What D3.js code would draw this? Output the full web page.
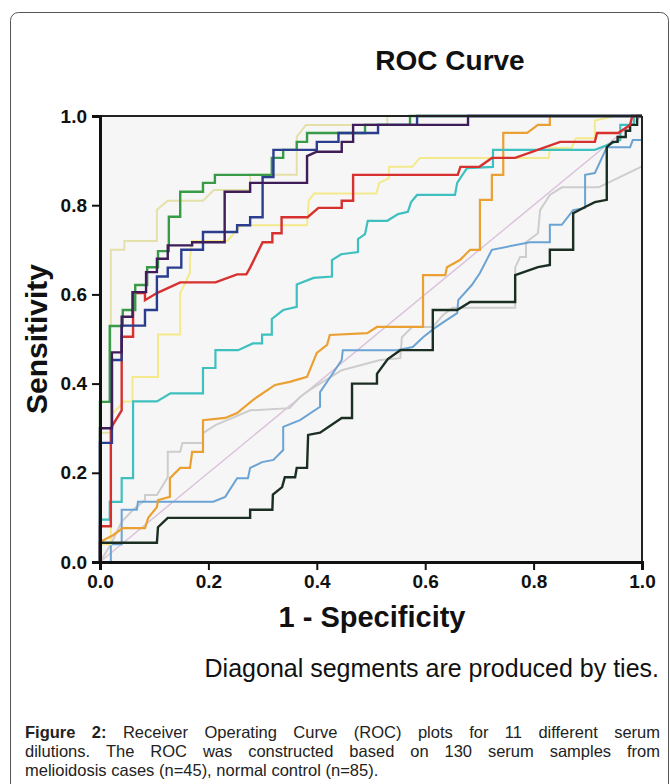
<!DOCTYPE html>
<html>
<head>
<meta charset="utf-8">
<script src="https://cdn.jsdelivr.net/npm/d3@7"></script>
<style>
  html, body { margin: 0; padding: 0; background: #ffffff; }
  svg { display: block; }
</style>
</head>
<body>
<svg id="chart" width="670" height="784"></svg>
<script>
// ---------------- DATA (1 - specificity, sensitivity) ----------------
const tickValues = [0.0, 0.2, 0.4, 0.6, 0.8, 1.0];
const titleText = "ROC Curve";
const xTitle = "1 - Specificity";
const yTitle = "Sensitivity";
const noteText = "Diagonal segments are produced by ties.";
const captionBold = "Figure 2:";
const captionLines = [
  "Receiver Operating Curve (ROC) plots for 11 different serum",
  "dilutions. The ROC was constructed based on 130 serum samples from",
  "melioidosis cases (n=45), normal control (n=85)."
];

const referenceLine = [[0, 0], [1, 1]];

const seriesKhaki = [[0,0],[0,0.29],[0.02,0.29],[0.02,0.70],[0.045,0.70],[0.045,0.72],[0.105,0.72],[0.105,0.79],[0.125,0.81],[0.19,0.81],[0.21,0.834],[0.277,0.834],[0.277,0.868],[0.363,0.868],[0.363,0.953],[0.38,0.98],[0.53,0.98],[0.53,1.0],[1,1]];
const seriesGreen = [[0,0],[0,0.359],[0.018,0.359],[0.018,0.529],[0.042,0.529],[0.042,0.565],[0.065,0.565],[0.065,0.621],[0.087,0.621],[0.087,0.661],[0.107,0.661],[0.107,0.697],[0.127,0.697],[0.127,0.774],[0.148,0.774],[0.148,0.83],[0.19,0.83],[0.19,0.85],[0.212,0.85],[0.212,0.868],[0.317,0.868],[0.317,0.906],[0.338,0.906],[0.338,0.924],[0.363,0.924],[0.363,0.942],[0.382,0.942],[0.382,0.962],[0.489,0.962],[0.489,0.98],[0.572,0.98],[0.572,1.0],[1,1]];
const seriesPurple = [[0,0],[0,0.30],[0.022,0.30],[0.022,0.47],[0.04,0.47],[0.04,0.55],[0.06,0.55],[0.06,0.605],[0.085,0.605],[0.085,0.65],[0.105,0.65],[0.105,0.68],[0.125,0.68],[0.125,0.71],[0.17,0.71],[0.17,0.717],[0.23,0.717],[0.23,0.83],[0.277,0.83],[0.277,0.85],[0.382,0.85],[0.382,0.91],[0.40,0.92],[0.446,0.92],[0.446,0.942],[0.467,0.942],[0.467,0.98],[0.679,0.98],[0.679,1.0],[1,1]];
const seriesNavy = [[0,0],[0,0.267],[0.022,0.267],[0.022,0.453],[0.04,0.453],[0.04,0.53],[0.083,0.53],[0.083,0.565],[0.105,0.565],[0.105,0.64],[0.125,0.64],[0.125,0.66],[0.15,0.66],[0.15,0.70],[0.19,0.70],[0.19,0.74],[0.253,0.74],[0.253,0.755],[0.277,0.755],[0.277,0.773],[0.30,0.773],[0.30,0.863],[0.32,0.863],[0.32,0.924],[0.40,0.924],[0.40,0.942],[0.44,0.942],[0.44,0.962],[0.513,0.962],[0.513,0.98],[0.585,0.98],[0.585,1.0],[1,1]];
const seriesRed = [[0,0],[0,0.08],[0.02,0.08],[0.02,0.30],[0.04,0.34],[0.04,0.505],[0.061,0.505],[0.061,0.603],[0.083,0.603],[0.083,0.587],[0.105,0.603],[0.148,0.627],[0.213,0.627],[0.253,0.645],[0.27,0.645],[0.277,0.66],[0.30,0.717],[0.318,0.717],[0.318,0.737],[0.335,0.737],[0.335,0.773],[0.383,0.773],[0.403,0.794],[0.446,0.794],[0.446,0.81],[0.467,0.81],[0.467,0.868],[0.66,0.868],[0.665,0.886],[0.70,0.886],[0.723,0.906],[0.766,0.906],[0.849,0.942],[0.913,0.942],[0.917,0.962],[0.956,0.962],[0.978,0.98],[0.982,1.0],[1,1]];
const seriesTeal = [[0,0],[0,0.095],[0.018,0.095],[0.018,0.135],[0.04,0.135],[0.04,0.188],[0.061,0.188],[0.061,0.36],[0.105,0.36],[0.13,0.378],[0.19,0.378],[0.19,0.435],[0.213,0.435],[0.213,0.475],[0.255,0.475],[0.282,0.49],[0.299,0.49],[0.299,0.51],[0.317,0.51],[0.317,0.545],[0.338,0.565],[0.363,0.572],[0.363,0.622],[0.394,0.637],[0.428,0.64],[0.428,0.677],[0.445,0.69],[0.476,0.695],[0.476,0.724],[0.489,0.735],[0.494,0.765],[0.530,0.765],[0.55,0.78],[0.568,0.785],[0.574,0.807],[0.585,0.823],[0.655,0.823],[0.659,0.85],[0.677,0.883],[0.725,0.886],[0.725,0.924],[0.913,0.924],[0.96,0.946],[0.96,0.98],[0.985,0.98],[0.985,1.0],[1,1]];
const seriesOrange = [[0,0],[0,0.045],[0.024,0.06],[0.042,0.076],[0.083,0.076],[0.089,0.099],[0.105,0.123],[0.107,0.139],[0.129,0.146],[0.129,0.188],[0.148,0.211],[0.166,0.211],[0.17,0.247],[0.19,0.247],[0.19,0.318],[0.231,0.323],[0.253,0.334],[0.282,0.363],[0.29,0.37],[0.323,0.397],[0.35,0.404],[0.382,0.415],[0.40,0.469],[0.419,0.487],[0.424,0.509],[0.493,0.513],[0.511,0.527],[0.596,0.527],[0.596,0.643],[0.637,0.643],[0.64,0.661],[0.664,0.677],[0.683,0.70],[0.701,0.70],[0.701,0.812],[0.723,0.812],[0.723,0.868],[0.744,0.868],[0.744,0.962],[0.788,0.962],[0.808,0.98],[0.83,0.98],[0.83,1.0],[1,1]];
const seriesSteel = [[0,0],[0.02,0],[0.02,0.04],[0.04,0.04],[0.04,0.117],[0.068,0.117],[0.07,0.135],[0.209,0.135],[0.231,0.146],[0.253,0.188],[0.273,0.188],[0.277,0.211],[0.299,0.224],[0.32,0.229],[0.338,0.251],[0.338,0.303],[0.369,0.318],[0.406,0.348],[0.406,0.381],[0.424,0.413],[0.446,0.453],[0.448,0.475],[0.548,0.475],[0.577,0.482],[0.596,0.504],[0.618,0.525],[0.64,0.543],[0.659,0.558],[0.661,0.587],[0.686,0.621],[0.701,0.648],[0.723,0.70],[0.793,0.717],[0.83,0.717],[0.83,0.756],[0.852,0.756],[0.873,0.789],[0.895,0.794],[0.895,0.868],[0.913,0.872],[0.935,0.93],[0.978,0.93],[0.983,0.946],[1.0,0.946],[1,1]];
const seriesGrey = [[0,0],[0.02,0.04],[0.04,0.09],[0.061,0.117],[0.083,0.139],[0.083,0.15],[0.105,0.15],[0.125,0.19],[0.125,0.247],[0.148,0.247],[0.152,0.267],[0.19,0.267],[0.19,0.289],[0.213,0.307],[0.277,0.34],[0.35,0.345],[0.369,0.37],[0.387,0.386],[0.446,0.43],[0.517,0.453],[0.554,0.457],[0.557,0.504],[0.576,0.527],[0.614,0.527],[0.633,0.554],[0.651,0.57],[0.766,0.57],[0.766,0.66],[0.775,0.684],[0.786,0.684],[0.786,0.717],[0.808,0.737],[0.812,0.789],[0.83,0.823],[0.852,0.84],[0.92,0.84],[1.0,0.887],[1,1]];
const seriesBlack = [[0,0],[0,0.043],[0.105,0.043],[0.107,0.078],[0.125,0.099],[0.277,0.099],[0.277,0.117],[0.318,0.117],[0.319,0.151],[0.336,0.168],[0.341,0.19],[0.36,0.19],[0.363,0.211],[0.382,0.211],[0.384,0.285],[0.406,0.29],[0.446,0.323],[0.465,0.323],[0.465,0.40],[0.511,0.40],[0.511,0.422],[0.531,0.455],[0.554,0.475],[0.614,0.475],[0.614,0.565],[0.659,0.565],[0.683,0.583],[0.766,0.583],[0.766,0.643],[0.808,0.661],[0.83,0.666],[0.83,0.70],[0.873,0.70],[0.873,0.782],[0.895,0.796],[0.913,0.807],[0.935,0.812],[0.935,0.93],[0.946,0.942],[0.955,0.942],[0.955,0.953],[0.97,0.953],[0.97,0.967],[0.978,0.967],[0.978,0.98],[0.991,0.98],[0.991,1.0],[1,1]];
const seriesYellow = [[0,0],[0,0.04],[0.02,0.04],[0.02,0.33],[0.045,0.36],[0.06,0.36],[0.06,0.415],[0.107,0.415],[0.107,0.51],[0.148,0.51],[0.148,0.603],[0.166,0.648],[0.166,0.68],[0.17,0.72],[0.235,0.72],[0.26,0.755],[0.382,0.755],[0.385,0.81],[0.395,0.826],[0.51,0.826],[0.515,0.85],[0.533,0.86],[0.533,0.886],[0.576,0.886],[0.59,0.906],[0.828,0.906],[0.83,0.928],[0.87,0.928],[0.878,0.95],[0.913,0.95],[0.913,0.99],[0.95,1.0],[1,1]];

const seriesList = [
  { data: seriesGrey,   color: "#cdcdcd", width: 2 },
  { data: seriesSteel,  color: "#6ba3d3", width: 2 },
  { data: seriesYellow, color: "#f4ea8c", width: 2 },
  { data: seriesKhaki,  color: "#e4e0aa", width: 2 },
  { data: seriesOrange, color: "#eba033", width: 2.2 },
  { data: seriesTeal,   color: "#3fc0c0", width: 2.2 },
  { data: seriesBlack,  color: "#1b2e22", width: 2.4 },
  { data: seriesRed,    color: "#d6302f", width: 2.4 },
  { data: seriesGreen,  color: "#399a47", width: 2.4 },
  { data: seriesNavy,   color: "#2b3d8e", width: 2.4 },
  { data: seriesPurple, color: "#3e1d58", width: 2.4 }
];

// ---------------- LAYOUT ----------------
const svg = d3.select("#chart");
const plot = { left: 100, right: 642, top: 116, bottom: 562 };
const font = "Liberation Sans, Arial, sans-serif";

// outer frame
svg.append("rect")
  .attr("x", 10.5).attr("y", 12.5)
  .attr("width", 658).attr("height", 790)
  .attr("rx", 8).attr("ry", 8)
  .attr("fill", "#ffffff")
  .attr("stroke", "#555555").attr("stroke-width", 1);

const x = d3.scaleLinear().domain([0, 1]).range([plot.left, plot.right]);
const y = d3.scaleLinear().domain([0, 1]).range([plot.bottom, plot.top]);

// plot background
svg.append("rect")
  .attr("x", plot.left).attr("y", plot.top)
  .attr("width", plot.right - plot.left).attr("height", plot.bottom - plot.top)
  .attr("fill", "#f6f6f6");

const line = d3.line().x(d => x(d[0])).y(d => y(d[1]));

// reference diagonal
svg.append("path")
  .datum(referenceLine)
  .attr("d", line)
  .attr("fill", "none")
  .attr("stroke", "#dcc3dc")
  .attr("stroke-width", 1.5);

svg.append("g").selectAll("path")
  .data(seriesList)
  .join("path")
  .attr("d", d => line(d.data))
  .attr("fill", "none")
  .attr("stroke", d => d.color)
  .attr("stroke-width", d => d.width)
  .attr("stroke-linejoin", "miter");

// top & right frame
svg.append("line")
  .attr("x1", plot.left).attr("x2", plot.right)
  .attr("y1", plot.top).attr("y2", plot.top)
  .attr("stroke", "#222").attr("stroke-width", 2);
svg.append("line")
  .attr("x1", plot.right).attr("x2", plot.right)
  .attr("y1", plot.top).attr("y2", plot.bottom)
  .attr("stroke", "#222").attr("stroke-width", 2);

const fmt = d3.format(".1f");
const xAxis = svg.append("g")
  .attr("transform", `translate(0,${plot.bottom})`)
  .call(d3.axisBottom(x).tickValues(tickValues).tickFormat(fmt).tickSizeOuter(0).tickSize(8).tickPadding(5));
const yAxis = svg.append("g")
  .attr("transform", `translate(${plot.left},0)`)
  .call(d3.axisLeft(y).tickValues(tickValues).tickFormat(fmt).tickSizeOuter(0).tickSize(8).tickPadding(5));

[xAxis, yAxis].forEach(g => {
  g.select(".domain").attr("stroke", "#111").attr("stroke-width", 3);
  g.selectAll(".tick line").attr("stroke", "#111").attr("stroke-width", 2);
  g.selectAll(".tick text")
    .attr("fill", "#111")
    .attr("font-family", font)
    .attr("font-weight", "bold")
    .attr("font-size", 19);
});

// titles
svg.append("text")
  .attr("x", 450).attr("y", 70)
  .attr("text-anchor", "middle")
  .attr("font-family", font).attr("font-weight", "bold").attr("font-size", 28)
  .attr("fill", "#111")
  .text(titleText);

svg.append("text")
  .attr("x", 372).attr("y", 627)
  .attr("text-anchor", "middle")
  .attr("font-family", font).attr("font-weight", "bold").attr("font-size", 29)
  .attr("fill", "#111")
  .text(xTitle);

svg.append("text")
  .attr("transform", `translate(47,${(plot.top + plot.bottom) / 2}) rotate(-90)`)
  .attr("text-anchor", "middle")
  .attr("font-family", font).attr("font-weight", "bold").attr("font-size", 30)
  .attr("fill", "#111")
  .text(yTitle);

svg.append("text")
  .attr("x", 659).attr("y", 677)
  .attr("text-anchor", "end")
  .attr("font-family", font).attr("font-size", 25)
  .attr("fill", "#111")
  .text(noteText);

// caption (justified)
const capFont = "Liberation Sans Narrow, Arial Narrow, Liberation Sans, sans-serif";
const capLeft = 25, capRight = 660;
const capY = [738, 757, 776];
const capSize = 16.5;

function justify(words, yPos, justifyLine) {
  const g = svg.append("g");
  const nodes = words.map(w => g.append("text")
    .attr("y", yPos)
    .attr("font-family", capFont)
    .attr("font-size", capSize)
    .attr("font-weight", w.bold ? "bold" : "normal")
    .attr("fill", "#222")
    .text(w.t));
  const widths = nodes.map(n => n.node().getComputedTextLength());
  const total = d3.sum(widths);
  const space = justifyLine ? (capRight - capLeft - total) / (words.length - 1) : capSize * 0.28;
  let cx = capLeft;
  nodes.forEach((n, i) => { n.attr("x", cx); cx += widths[i] + space; });
}

const line1 = captionBold.split(" ").map(t => ({ t, bold: true }))
  .concat(captionLines[0].split(" ").map(t => ({ t, bold: false })));
justify(line1, capY[0], true);
justify(captionLines[1].split(" ").map(t => ({ t, bold: false })), capY[1], true);
justify(captionLines[2].split(" ").map(t => ({ t, bold: false })), capY[2], false);
</script>
</body>
</html>
